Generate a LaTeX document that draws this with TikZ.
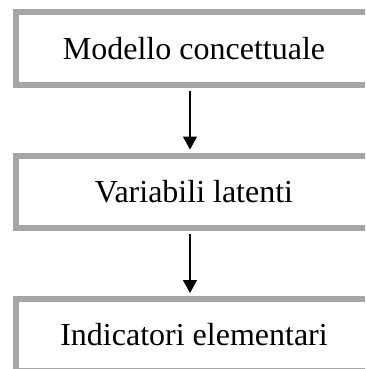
\documentclass[tikz,border=0pt]{standalone}
\usepackage{fontspec}
\setmainfont{Liberation Serif}
\usetikzlibrary{arrows.meta}
\definecolor{boxgray}{HTML}{A6A6A6}
\begin{document}
\begin{tikzpicture}[x=1pt,y=1pt,
  level/.style={draw=boxgray,line width=6pt,fill=white,minimum width=356pt,minimum height=72pt,inner sep=0pt,font=\fontsize{32}{36}\selectfont},
  link/.style={line width=1.3pt,-{Triangle[length=13pt,width=14pt]}}]
\useasboundingbox (0,0) rectangle (365,-369);
\clip (0,0) rectangle (365,-369);
\node[level] (m) at (194,-48.5) {Modello concettuale};
\node[level] (v) at (194,-191.5) {Variabili latenti};
\node[level] (i) at (194,-335) {Indicatori elementari};
\draw[link] ([xshift=-4pt,yshift=-3pt]m.south) -- ([xshift=-4pt,yshift=3pt]v.north);
\draw[link] ([xshift=-4pt,yshift=-3pt]v.south) -- ([xshift=-4pt,yshift=3pt]i.north);
\end{tikzpicture}
\end{document}
